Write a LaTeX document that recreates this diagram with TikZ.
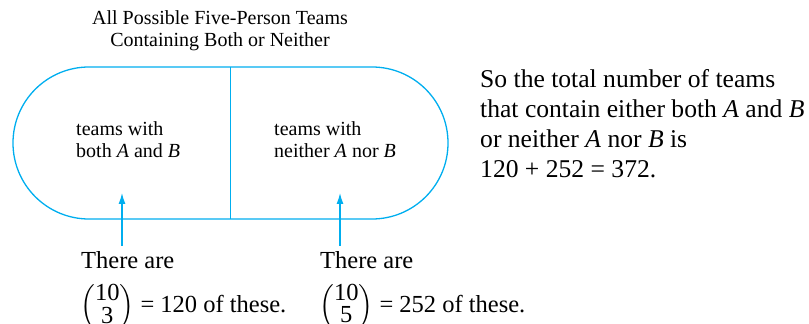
\documentclass[tikz,border=0pt]{standalone}
\usepackage{amsmath}
\usepackage{fontspec}
\setmainfont{Liberation Serif}
\usetikzlibrary{arrows.meta,positioning}
\definecolor{teamblue}{RGB}{0,174,239}

\begin{document}
\begin{tikzpicture}[
  x=1pt, y=1pt,
  region/.style={draw=teamblue, line width=1.3pt},
  arrow/.style={-{Latex[length=11pt,width=7pt]}, draw=teamblue, line width=1.3pt, shorten <=6pt},
  heading/.style={font=\fontsize{20}{22}\selectfont, align=center, inner sep=0pt},
  label/.style={font=\fontsize{20}{22}\selectfont, align=left, inner sep=0pt},
  count/.style={font=\fontsize{24.5}{29}\selectfont, inner sep=0pt},
  total/.style={font=\fontsize{25.6}{30}\selectfont, align=left, inner sep=0pt}
]
\useasboundingbox (0,0) rectangle (809,324);

\node[heading, anchor=north] (title) at (220,314) {All Possible Five-Person Teams\\Containing Both or Neither};

% the set of teams, split in two
\draw[region] (89,257) -- (372,257) arc[start angle=90, end angle=-90, radius=76]
  -- (89,105) arc[start angle=270, end angle=90, radius=76] -- cycle;
\draw[region] (230.5,257) -- (230.5,105);

\node[label, anchor=north west] (both) at (76,203) {teams with\\both \textit{A} and \textit{B}};
\node[label, anchor=north west] (neither) at (274,203) {teams with\\neither \textit{A} nor \textit{B}};

\node[total, anchor=north west] (total) at (480,255) {So the total number of teams\\that contain either both \textit{A} and \textit{B}\\or neither \textit{A} nor \textit{B} is\\120 + 252 = 372.};

% counts below
\node[count, anchor=base west] (thereL) at (81,55) {There are};
\node[count, anchor=base west] (countL) at (80,11) {\def\arraystretch{0.76}$\Bigl(\begin{tabular}{@{}c@{}}10\\3\end{tabular}\Bigr)$ = 120 of these.};
\node[count, anchor=base west] (thereR) at (320,55) {There are};
\node[count, anchor=base west] (countR) at (319,11) {\def\arraystretch{0.76}$\Bigl(\begin{tabular}{@{}c@{}}10\\5\end{tabular}\Bigr)$ = 252 of these.};

\coordinate (tipL) at (122,131);
\coordinate (tipR) at (340,131);
\draw[arrow] (thereL.north -| tipL) -- (tipL);
\draw[arrow] (thereR.north -| tipR) -- (tipR);
\end{tikzpicture}
\end{document}
